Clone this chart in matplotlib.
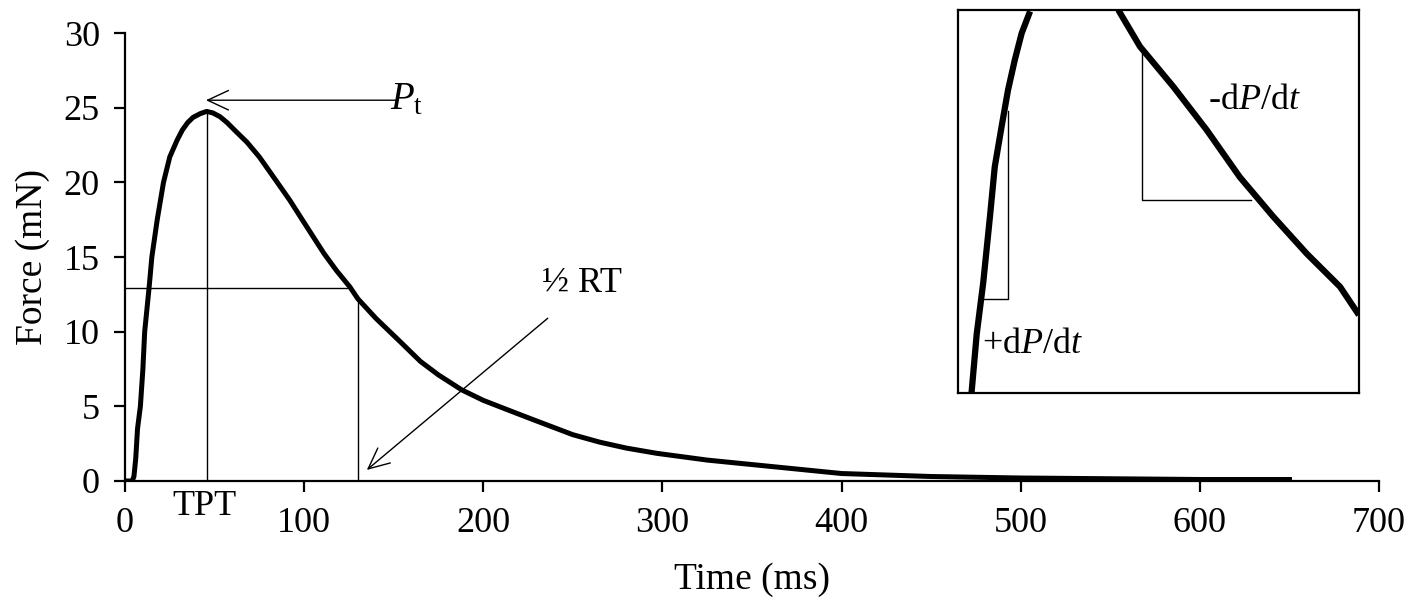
import matplotlib
matplotlib.use("Agg")
import matplotlib.pyplot as plt
import numpy as np

plt.rcParams["font.family"] = ["Liberation Serif", "DejaVu Serif"]
plt.rcParams["mathtext.fontset"] = "custom"
plt.rcParams["mathtext.rm"] = "Liberation Serif"
plt.rcParams["mathtext.it"] = "Liberation Serif:italic"

# twitch force trace (ms, mN)
time_ms = [0, 4, 5, 6, 7, 8.6, 10, 11, 13.5, 15, 18, 21.5, 25, 29, 32, 35, 38,
           42, 45.6, 49, 53, 57, 62, 68, 75, 85, 92, 100, 111, 118, 125.5,
           130, 140, 153, 165, 175, 188, 200, 215, 228, 250, 265, 280, 297,
           325, 350, 375, 400, 450, 500, 550, 600, 650]
force_mn = [0, 0, 0.3, 1.5, 3.5, 5, 7.5, 10, 13, 15, 17.5, 20, 21.7, 22.8,
            23.5, 24.0, 24.35, 24.6, 24.75, 24.65, 24.4, 24.0, 23.4, 22.7,
            21.7, 20, 18.8, 17.3, 15.25, 14.1, 13.0, 12.2, 10.9, 9.4, 8.0,
            7.1, 6.1, 5.4, 4.7, 4.1, 3.1, 2.6, 2.2, 1.85, 1.4, 1.1, 0.8, 0.5,
            0.3, 0.2, 0.15, 0.1, 0.1]

# markers
tpt_ms = 45.6
peak_mn = 24.75
half_force = 12.95
half_cross_ms = 123.7
half_rt_ms = 130.0
half_rt_force = 12.2

# inset (zoomed view of rise and fall)
inset_rise_t = [13.4, 14.7, 16.3, 18.0, 19.2, 20.9, 22.5, 24.2, 25.9, 28.0]
inset_rise_f = [12.0, 13.7, 15.15, 17.07, 18.5, 19.65, 20.7, 21.57, 22.33, 22.96]
inset_fall_t = [50.0, 55.4, 63.7, 72.0, 80.3, 88.6, 97.0, 105.3, 110.0]
inset_fall_f = [23.0, 21.95, 20.8, 19.56, 18.2, 17.07, 16.0, 15.05, 14.24]

fig = plt.figure(figsize=(14.17, 6.07), dpi=100)
ax = fig.add_axes([0.0882, 0.2076, 0.885, 0.738])

ax.plot(time_ms, force_mn, color="black", lw=3.6, solid_joinstyle="round")

ax.plot([tpt_ms, tpt_ms], [0, peak_mn], color="black", lw=1.0)
ax.plot([0, half_cross_ms], [half_force, half_force], color="black", lw=1.0)
ax.plot([half_rt_ms, half_rt_ms], [0, half_rt_force], color="black", lw=1.0)

arrow = dict(arrowstyle="->,head_length=0.75,head_width=0.35", color="black",
             lw=1.0, mutation_scale=20, shrinkA=0, shrinkB=0)
ax.annotate("", xy=(45.2, 25.5), xytext=(152, 25.5), arrowprops=arrow)
ax.text(148, 25.5, r"$\mathit{P}_{\mathrm{t}}$", fontsize=28, ha="left", va="center")
ax.annotate("", xy=(135, 0.74), xytext=(236, 10.9), arrowprops=arrow)
ax.text(255, 13.2, "½ RT", fontsize=26, ha="center", va="center")
ax.text(44.6, -1.7, "TPT", fontsize=26, ha="center", va="center", clip_on=False)

ax.set_xlim(0, 700)
ax.set_ylim(0, 30)
ax.set_xticks(np.arange(0, 701, 100))
ax.set_yticks(np.arange(0, 31, 5))
for side in ["top", "right"]:
    ax.spines[side].set_visible(False)
for side in ["left", "bottom"]:
    ax.spines[side].set_linewidth(1.6)
ax.tick_params(axis="both", direction="out", length=8, width=1.6, labelsize=26)
ax.tick_params(axis="x", pad=11)
ax.tick_params(axis="y", pad=10)
ax.set_xlabel("Time (ms)", fontsize=27, labelpad=16)
ax.set_ylabel("Force (mN)", fontsize=27, labelpad=10)

# inset
ins = fig.add_axes([0.676, 0.3526, 0.283, 0.631])
ins.plot(inset_rise_t, inset_rise_f, color="black", lw=4.5, solid_capstyle="butt")
ins.plot(inset_fall_t, inset_fall_f, color="black", lw=4.5, solid_capstyle="butt")
ins.plot([16.3, 22.5, 22.5], [14.69, 14.69, 20.1], color="black", lw=1.0)
ins.plot([56.0, 56.0, 83.2], [21.85, 17.53, 17.53], color="black", lw=1.0)
ins.text(16.0, 13.4, r"+d$\mathit{P}$/d$\mathit{t}$", fontsize=26, ha="left", va="center")
ins.text(72.3, 20.4, r"-d$\mathit{P}$/d$\mathit{t}$", fontsize=26, ha="left", va="center")
ins.set_xlim(10, 110)
ins.set_ylim(12, 23)
ins.set_xticks([])
ins.set_yticks([])
for sp in ins.spines.values():
    sp.set_linewidth(1.6)

fig.savefig("out.png", dpi=100)
